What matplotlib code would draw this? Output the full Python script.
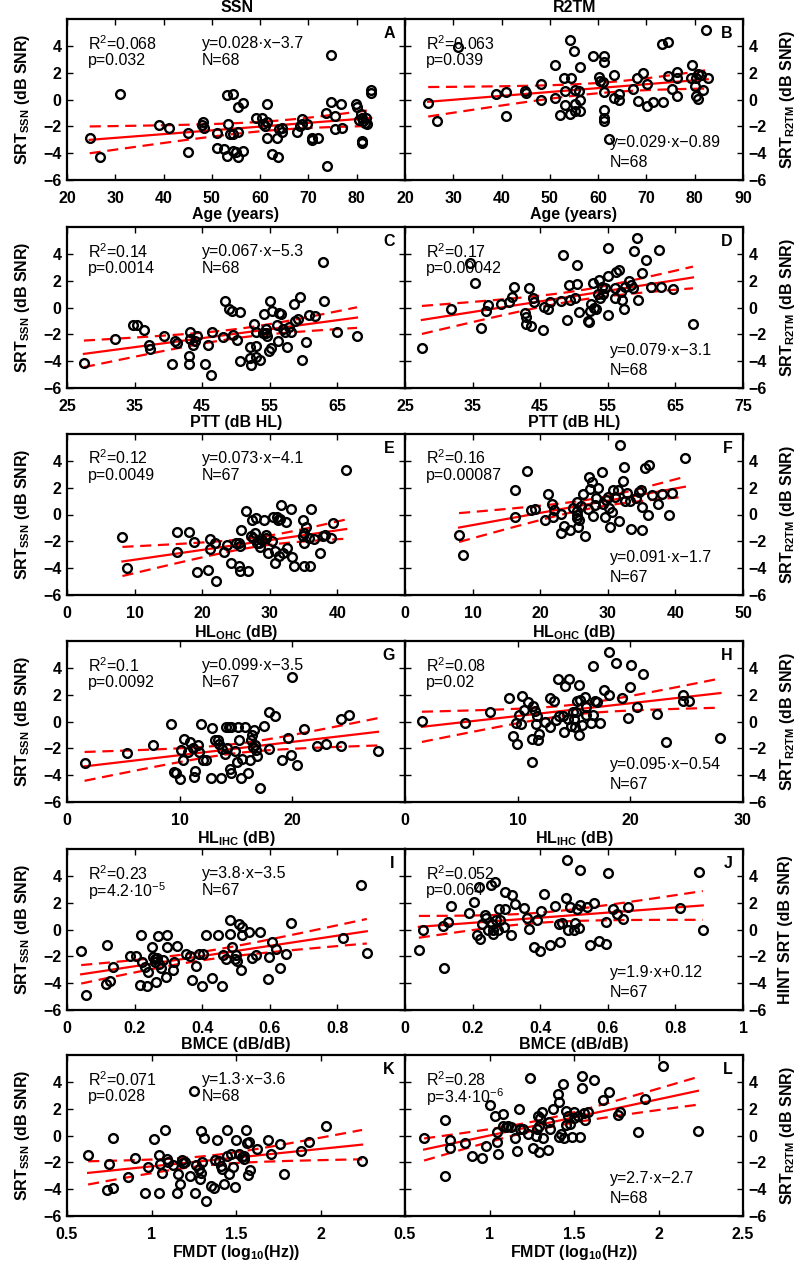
import numpy as np
import matplotlib
matplotlib.use("Agg")
import matplotlib.pyplot as plt

plt.rcParams['font.family'] = ['Liberation Sans', 'DejaVu Sans']
plt.rcParams['font.size'] = 11.5
plt.rcParams['mathtext.fontset'] = 'custom'
plt.rcParams['mathtext.rm'] = 'Liberation Sans'
plt.rcParams['mathtext.it'] = 'Liberation Sans:italic'
plt.rcParams['mathtext.bf'] = 'Liberation Sans:bold'

# ---- data: (x, SRT) per panel ----
pts_A = [(24.7, -2.89), (26.8, -4.27), (30.9, 0.42), (39.0, -1.9), (41.1, -2.15), (45.1, -2.47),
         (45.1, -3.9), (48.2, -1.65), (48.3, -2.1), (51.1, -2.47), (51.1, -3.63), (52.5, -3.7),
         (53.2, 0.3), (53.4, -1.8), (53.2, -4.2), (54.4, 0.42), (54.4, -2.54), (54.3, -3.83),
         (55.4, -0.57), (55.4, -2.4), (55.4, -4.27), (56.5, -0.25), (56.4, -3.83), (59.2, -1.36),
         (60.3, -1.4), (60.6, -1.85), (61.5, -0.37), (61.5, -2.84), (61.5, -1.65), (62.4, -4.07),
         (63.4, -2.84), (63.7, -4.27), (64.5, -2.1), (64.5, -2.4), (67.7, -2.4), (68.6, -1.48),
         (68.7, -1.85), (69.8, -1.8), (70.7, -3.04), (70.8, -2.89), (71.9, -2.89), (73.7, -0.99),
         (73.8, -4.96), (74.7, 3.28), (74.7, -0.17), (75.6, -2.22), (76.8, -0.37), (77.0, -2.15),
         (79.9, -0.37), (80.0, -0.57), (81.0, -3.09), (81.0, -3.21), (81.1, -1.36), (81.3, -1.6),
         (82.0, -1.36), (82.1, -1.85), (81.8, -1.73), (83.0, 0.74), (83.0, 0.49), (80.8, -1.11),
         (55.0, -3.9), (61.0, -2.0), (64.0, -2.2), (80.5, -1.5), (53.8, -2.6), (75.5, -1.2),
         (68.3, -2.0), (48.0, -1.9)]
pts_B = [(24.8, -0.25), (26.7, -1.6), (30.9, 3.93), (38.9, 0.42), (41.0, 0.57), (41.0, -1.23),
         (44.9, 0.62), (45.0, 0.47), (48.2, 1.16), (48.2, -0.07), (51.0, 2.54), (51.0, 0.12),
         (52.2, -1.16), (52.9, 1.6), (53.1, 0.62), (53.1, -0.42), (54.1, 4.44), (54.3, 1.6),
         (54.1, -1.11), (54.9, 3.58), (55.2, 0.74), (55.2, -0.32), (55.3, -0.86), (56.2, 2.4),
         (56.2, -0.07), (56.2, -0.86), (59.0, 3.26), (60.1, 1.65), (60.3, 1.36), (61.3, 3.21),
         (61.3, 2.79), (61.3, 0.57), (61.3, -0.81), (61.3, -1.41), (61.3, -1.6), (62.2, -2.96),
         (63.2, 1.8), (63.2, 0.12), (64.3, 0.42), (64.3, -0.07), (67.3, 0.81), (68.1, 1.6),
         (68.3, -0.12), (69.3, 1.98), (70.2, 1.16), (70.2, -0.49), (71.3, -0.17), (73.4, -0.17),
         (73.2, 4.15), (74.4, 4.25), (74.4, 1.73), (75.2, 0.81), (76.4, 2.05), (76.4, 1.6),
         (76.4, 0.25), (79.4, 2.59), (79.3, 1.6), (80.3, 1.6), (80.3, 0.25), (80.6, 0.07),
         (80.7, 1.9), (81.4, 1.8), (81.7, 0.74), (82.4, 5.19), (82.7, 1.6), (56.0, 0.6),
         (61.0, 1.3), (80.0, 1.0)]
pts_C = [(27.5, -4.1), (32.1, -2.34), (34.7, -1.34), (35.4, -1.34), (36.4, -1.67), (37.2, -2.79),
         (37.3, -3.08), (39.4, -2.16), (40.5, -4.23), (41.0, -2.49), (41.2, -2.66), (43.0, -3.58),
         (43.1, -4.23), (43.2, -1.84), (43.2, -2.34), (43.7, -2.79), (44.2, -2.16), (45.4, -4.23),
         (45.8, -2.79), (46.3, -5.02), (46.4, -1.84), (48.1, -2.21), (48.3, 0.45), (48.9, -0.12),
         (49.4, -0.25), (49.6, -2.04), (50.1, -2.41), (50.6, -0.37), (50.6, -3.98), (52.0, -3.73),
         (52.1, -2.91), (52.2, -4.28), (52.6, -1.24), (52.9, -1.79), (53.0, -2.84), (52.9, -3.66),
         (53.5, -3.91), (54.2, -0.47), (54.4, -1.59), (54.5, -1.92), (54.6, -2.16), (54.9, -3.23),
         (55.1, 0.45), (55.2, -3.03), (55.3, -0.25), (56.1, -1.34), (56.2, -2.49), (56.3, -0.42),
         (56.7, -0.5), (57.2, -1.79), (57.5, -2.91), (57.8, -1.42), (58.1, -1.79), (58.6, 0.25),
         (58.8, -1.0), (59.2, -0.85), (59.5, 0.75), (59.7, -3.91), (60.3, -2.54), (60.8, -0.55),
         (61.7, -0.67), (62.8, 3.36), (63.0, 0.5), (64.9, -1.84), (67.9, -2.16), (54.0, -1.9),
         (57.0, -1.6), (44.0, -2.5)]
pts_D = [(27.5, -3.01), (31.8, -0.1), (34.6, 3.33), (35.4, 1.85), (36.2, -1.53), (37.0, -0.25),
         (37.3, 0.15), (39.2, 0.25), (40.4, 0.4), (40.9, 0.81), (41.1, 1.56), (42.8, -0.42),
         (42.9, -0.74), (42.9, -1.23), (43.3, 1.48), (43.6, -1.41), (43.9, 0.69), (44.1, 0.44),
         (45.4, -1.65), (45.6, 0.07), (46.1, -0.1), (46.4, 0.44), (48.1, 0.49), (48.3, 3.9),
         (48.9, -0.91), (49.2, 1.68), (49.4, 0.57), (50.1, 0.69), (50.5, 3.16), (50.5, 1.73),
         (50.7, -0.35), (52.0, -0.99), (52.2, -1.09), (52.3, -0.25), (52.5, 0.25), (52.8, 1.8),
         (53.0, 0.0), (53.2, -0.1), (53.7, 2.05), (53.9, 0.69), (54.2, 1.56), (54.3, 0.99),
         (54.6, 1.43), (55.0, 4.44), (55.0, -0.54), (55.1, 2.37), (56.0, 0.69), (56.1, 1.43),
         (56.2, 2.62), (56.6, 2.79), (56.9, 1.14), (57.1, 0.57), (57.4, -0.1), (57.6, 1.56),
         (58.1, 1.98), (58.4, 1.68), (58.7, 1.43), (58.9, 4.2), (59.3, 5.19), (59.4, 0.57),
         (60.1, 2.54), (60.7, 3.53), (61.4, 1.56), (62.5, 4.27), (62.9, 1.56), (64.7, 1.38),
         (67.6, -1.23), (53.5, 1.0)]
pts_E = [(8.2, -1.64), (8.9, -4.02), (16.3, -1.32), (16.3, -2.82), (18.1, -1.32), (18.8, -2.08),
         (19.2, -4.26), (20.9, -4.17), (21.2, -1.84), (21.2, -2.57), (21.9, -2.13), (22.1, -4.95),
         (23.2, -2.82), (23.6, -2.25), (24.3, -3.65), (25.0, -2.13), (25.4, -3.85), (25.6, -4.22),
         (25.6, -2.38), (25.8, -1.15), (26.5, 0.27), (26.8, -4.22), (27.3, -0.42), (27.5, -1.76),
         (27.8, -1.4), (27.9, -0.29), (28.1, -2.13), (28.6, -2.43), (28.9, -1.89), (29.1, -0.42),
         (29.4, -1.76), (29.7, -2.87), (30.3, -1.94), (30.5, -0.17), (30.8, -3.6), (31.0, -0.22),
         (31.2, -0.42), (31.4, -3.11), (31.7, 0.74), (31.9, -2.87), (32.4, -0.54), (32.5, -2.5),
         (33.1, 0.44), (33.3, -3.16), (33.6, -3.85), (34.9, -0.42), (35.0, -1.4), (35.0, -3.85),
         (35.1, -2.13), (35.4, -0.96), (35.8, -1.76), (35.9, -3.85), (36.1, 0.44), (36.6, -1.84),
         (37.4, -2.87), (37.9, -1.59), (38.1, -1.52), (39.1, -1.76), (39.4, -0.61), (41.3, 3.31),
         (27.2, -1.6), (29.5, -1.5), (30.8, -2.7), (25.5, -2.1), (34.9, -1.6), (28.4, -2.1),
         (31.5, -0.3)]
pts_F = [(8.0, -1.52), (8.6, -2.99), (16.2, 1.84), (16.3, -0.22), (18.1, 3.26), (18.7, 0.37),
         (19.3, 0.44), (20.7, -0.42), (21.1, 1.54), (21.7, 0.81), (21.9, -0.17), (23.1, 0.02),
         (23.1, -1.4), (23.5, -0.86), (24.4, -1.15), (24.9, 0.51), (25.4, 0.27), (25.4, -0.29),
         (25.5, 0.93), (25.6, -0.91), (25.7, -0.42), (26.4, 1.54), (26.7, -1.59), (27.2, 2.77),
         (27.3, 1.91), (27.6, 2.4), (27.8, -0.12), (28.1, 0.69), (28.6, 1.96), (29.1, 3.14),
         (29.3, 0.76), (29.6, -0.17), (29.8, 1.05), (30.0, 1.3), (30.3, -0.96), (30.6, 0.2),
         (30.8, 1.79), (31.5, 1.79), (31.6, -0.47), (31.8, 5.17), (32.3, 2.52), (32.4, 3.55),
         (32.9, 1.59), (33.3, 1.0), (33.5, -1.1), (34.6, 1.67), (34.9, 1.79), (35.0, -1.15),
         (35.0, 0.56), (35.5, 3.5), (36.1, 3.68), (35.9, -0.05), (36.5, 1.42), (37.4, 0.76),
         (38.0, 1.54), (39.0, -0.05), (39.5, 1.59), (41.4, 4.24), (25.5, 0.0), (30.2, 0.5),
         (28.3, 1.2), (32.6, 1.0), (22.0, 0.3), (26.0, 0.6), (34.2, 1.2), (31.0, 1.3),
         (27.0, 0.4)]
pts_G = [(1.56, -3.08), (5.29, -2.32), (7.65, -1.77), (9.2, -0.22), (9.5, -3.74), (9.7, -3.87),
         (10.0, -4.29), (10.1, -2.14), (10.3, -2.88), (10.4, -1.28), (10.7, -2.27), (10.9, -1.53),
         (11.3, -4.11), (11.4, -3.67), (11.6, -1.72), (11.7, -2.27), (11.85, -0.17), (12.1, -2.88),
         (12.35, -2.88), (12.8, -4.24), (12.9, -0.47), (13.1, -1.4), (13.4, -1.4), (13.5, -1.65),
         (13.7, -4.24), (13.8, -2.02), (14.0, -2.39), (14.1, -0.42), (14.4, -0.42), (14.5, -3.55),
         (14.6, -0.42), (14.6, -3.87), (14.9, -2.22), (15.1, -3.0), (15.2, -0.42), (15.3, -1.4),
         (15.4, -4.24), (15.5, -2.81), (15.8, -0.42), (16.1, -3.87), (16.2, -2.88), (16.3, -1.4),
         (16.4, -0.98), (16.6, -0.67), (16.7, -1.77), (16.8, -2.14), (16.9, -2.56), (17.1, -4.98),
         (17.5, -0.3), (17.9, 0.74), (17.9, -2.02), (18.5, 0.39), (19.1, -2.88), (19.6, -1.21),
         (19.9, -2.51), (20.0, 3.33), (20.4, -3.25), (21.0, -0.59), (22.2, -1.82), (23.0, -1.7),
         (24.35, 0.2), (24.35, -1.82), (25.0, 0.49), (27.6, -2.19), (14.2, -2.0), (11.2, -2.0),
         (16.5, -1.9)]
pts_H = [(1.5, 0.07), (5.3, -0.12), (7.55, 0.69), (9.2, 1.72), (9.55, -1.08), (9.85, -0.12),
         (9.9, -1.65), (10.1, 0.49), (10.3, -0.22), (10.4, 1.87), (10.6, 0.89), (10.9, 1.48),
         (11.3, -1.28), (11.3, -3.0), (11.4, 1.18), (11.5, 0.81), (11.6, -0.17), (11.7, 0.39),
         (11.8, -1.4), (11.9, -0.91), (12.4, -0.05), (12.9, -0.42), (12.9, 1.72), (13.2, 1.55),
         (13.6, 3.2), (13.7, 0.39), (14.0, 0.44), (14.1, -0.79), (14.2, 2.61), (14.5, 0.15),
         (14.6, 3.15), (14.7, -0.3), (14.9, 0.69), (15.1, -0.42), (15.2, 0.74), (15.3, 1.55),
         (15.4, 2.71), (15.4, -0.99), (15.5, 1.62), (15.7, -0.25), (16.0, 1.8), (16.1, 1.05),
         (16.1, 0.49), (16.5, -0.1), (16.7, 4.14), (16.7, 0.49), (16.9, 1.55), (17.0, 1.43),
         (17.3, -0.12), (17.7, 2.37), (18.1, 5.17), (18.1, 1.97), (18.7, 4.39), (19.3, 1.72),
         (19.8, 0.25), (20.0, 2.54), (20.1, 4.22), (20.6, 1.06), (21.1, 3.53), (22.4, 0.57),
         (23.2, -1.53), (24.7, 1.99), (24.7, 1.5), (25.2, 1.55), (28.0, -1.23), (15.0, 0.2),
         (13.4, 0.1)]
pts_I = [(0.042, -1.62), (0.055, -4.91), (0.114, -4.08), (0.119, -1.18), (0.128, -3.83), (0.136, -2.78),
         (0.187, -1.99), (0.203, -1.99), (0.215, -4.13), (0.22, -0.39), (0.223, -2.41), (0.23, -2.78),
         (0.236, -4.18), (0.239, -3.19), (0.252, -1.3), (0.254, -2.04), (0.259, -2.41), (0.262, -3.88),
         (0.266, -2.16), (0.269, -0.49), (0.272, -2.6), (0.279, -2.9), (0.284, -2.29), (0.294, -3.51),
         (0.296, -0.39), (0.296, -1.3), (0.313, -3.02), (0.318, -2.41), (0.325, -1.25), (0.353, -1.79),
         (0.365, -1.97), (0.37, -3.76), (0.382, -2.7), (0.392, -1.79), (0.4, -4.18), (0.402, -1.79),
         (0.412, -0.39), (0.429, -3.64), (0.446, -0.39), (0.459, -4.18), (0.461, -1.87), (0.469, -2.21),
         (0.481, 0.74), (0.481, -0.32), (0.489, -1.3), (0.498, -2.21), (0.502, -2.36), (0.51, 0.42),
         (0.515, -3.02), (0.517, 0.17), (0.518, -0.44), (0.538, -0.15), (0.548, -2.11), (0.56, -1.87),
         (0.572, -0.2), (0.594, -3.69), (0.597, -2.04), (0.607, -0.93), (0.619, -1.47), (0.631, -2.85),
         (0.648, -1.79), (0.663, 0.49), (0.818, -0.61), (0.87, 3.32), (0.887, -1.72), (0.26, -2.2),
         (0.50, -1.9)]
pts_J = [(0.041, -1.55), (0.053, -0.07), (0.112, 0.25), (0.115, -2.9), (0.128, 0.59), (0.135, 1.77),
         (0.189, 1.23), (0.204, 2.06), (0.214, -0.39), (0.219, 3.19), (0.221, -0.74), (0.229, 0.42),
         (0.236, 1.08), (0.24, 0.84), (0.246, -0.07), (0.253, 3.29), (0.256, 0.42), (0.26, -0.32),
         (0.266, 3.54), (0.268, 0.74), (0.276, -0.07), (0.278, 1.52), (0.28, 0.74), (0.293, 0.17),
         (0.296, 1.52), (0.296, 2.8), (0.315, -0.44), (0.317, 2.56), (0.325, 1.89), (0.352, 1.57),
         (0.362, 0.84), (0.367, 0.05), (0.381, -1.3), (0.391, 0.74), (0.398, -1.62), (0.401, 1.4),
         (0.411, 2.63), (0.428, -1.18), (0.443, 1.77), (0.457, 0.42), (0.46, -0.93), (0.465, 0.49),
         (0.477, 2.38), (0.48, 5.16), (0.483, -0.07), (0.487, 1.65), (0.5, -0.07), (0.502, 0.49),
         (0.509, 1.52), (0.514, 0.1), (0.519, 1.82), (0.519, 4.42), (0.539, 1.65), (0.546, -1.18),
         (0.559, 2.01), (0.573, -0.88), (0.595, -1.06), (0.595, 0.59), (0.601, 4.23), (0.615, 1.52),
         (0.627, 1.15), (0.644, 0.79), (0.66, 1.65), (0.815, 1.6), (0.869, 4.28), (0.881, 0.0),
         (0.26, 0.0)]
pts_K = [(0.625, -1.47), (0.734, -4.05), (0.75, -2.09), (0.77, -3.93), (0.774, -0.2), (0.863, -3.07),
         (0.903, -1.65), (0.962, -4.25), (0.982, -2.33), (1.012, -0.29), (1.042, -4.25), (1.046, -1.47),
         (1.052, -2.09), (1.06, -2.83), (1.081, 0.44), (1.091, -1.72), (1.127, -2.21), (1.151, -4.25),
         (1.155, -2.87), (1.171, -3.61), (1.18, -1.84), (1.186, -2.04), (1.226, -3.0), (1.25, 3.32),
         (1.26, -4.25), (1.266, -2.21), (1.28, -2.53), (1.286, -3.27), (1.29, -2.78), (1.294, 0.32),
         (1.3, -1.97), (1.313, -0.17), (1.32, -4.91), (1.353, -3.76), (1.369, -3.93), (1.373, -1.84),
         (1.389, -0.37), (1.413, -2.29), (1.419, -2.46), (1.429, -3.61), (1.444, -1.55), (1.448, 0.42),
         (1.458, -2.87), (1.468, -1.35), (1.484, -2.33), (1.492, -3.81), (1.498, -0.37), (1.518, -1.35),
         (1.538, -1.6), (1.548, -1.72), (1.558, 0.42), (1.565, -0.57), (1.571, -2.95), (1.577, -0.49),
         (1.583, -2.58), (1.623, -0.98), (1.687, -0.37), (1.71, -1.35), (1.76, -0.61), (1.782, -2.87),
         (1.885, -1.18), (1.929, -0.49), (2.034, 0.69), (2.246, -1.89), (1.2, -2.0), (1.4, -1.9),
         (1.55, -1.5), (1.10, -2.0)]
pts_L = [(0.613, -0.17), (0.737, 1.15), (0.737, -3.0), (0.765, -0.37), (0.767, -0.91), (0.856, -0.54),
         (0.895, -1.55), (0.958, -1.65), (0.982, -0.81), (1.002, 2.29), (1.034, 1.47), (1.042, -0.49),
         (1.047, 0.25), (1.053, -1.4), (1.077, 1.6), (1.081, 0.74), (1.107, 0.74), (1.126, 0.61),
         (1.152, -0.17), (1.16, -1.15), (1.176, 1.97), (1.18, 0.49), (1.225, 0.12), (1.239, 4.25),
         (1.255, -0.91), (1.275, -0.07), (1.279, 0.49), (1.285, 1.47), (1.29, -1.23), (1.294, 0.74),
         (1.31, 1.72), (1.318, -0.17), (1.344, -1.11), (1.358, 0.49), (1.374, 1.97), (1.403, 3.12),
         (1.413, 2.53), (1.409, -0.12), (1.423, 0.12), (1.437, 3.86), (1.443, -0.17), (1.452, 1.84),
         (1.462, 1.47), (1.476, 0.86), (1.488, -0.12), (1.502, 1.72), (1.522, 1.47), (1.535, -0.12),
         (1.547, 4.42), (1.547, 3.51), (1.561, 1.65), (1.567, 1.15), (1.581, 1.72), (1.617, 4.1),
         (1.674, 2.63), (1.706, 3.26), (1.759, 1.54), (1.773, 1.72), (1.877, 0.25), (1.921, 2.7),
         (2.026, 5.16), (2.233, 0.37), (1.30, 1.3), (1.20, 0.5), (1.45, 0.8), (1.10, 0.6),
         (1.35, 1.0), (1.5, 1.3)]

panel_points = [pts_A, pts_B, pts_C, pts_D, pts_E, pts_F, pts_G, pts_H, pts_I, pts_J, pts_K, pts_L]
letters = list("ABCDEFGHIJKL")

# fitted lines and stats as printed in each panel
slopes = [0.028, 0.029, 0.067, 0.079, 0.073, 0.091, 0.099, 0.095, 3.8, 1.9, 1.3, 2.7]
intercepts = [-3.7, -0.89, -5.3, -3.1, -4.1, -1.7, -3.5, -0.54, -3.5, 0.12, -3.6, -2.7]
r2_text = ["0.068", "0.063", "0.14", "0.17", "0.12", "0.16", "0.1", "0.08", "0.23", "0.052", "0.071", "0.28"]
p_text = ["0.032", "0.039", "0.0014", "0.00042", "0.0049", "0.00087", "0.0092", "0.02",
          "4.2\u00b710$^{-5}$", "0.064", "0.028", "3.4\u00b710$^{-6}$"]
eq_text = ["y=0.028\u00b7x\u22123.7", "y=0.029\u00b7x\u22120.89", "y=0.067\u00b7x\u22125.3",
           "y=0.079\u00b7x\u22123.1", "y=0.073\u00b7x\u22124.1", "y=0.091\u00b7x\u22121.7",
           "y=0.099\u00b7x\u22123.5", "y=0.095\u00b7x\u22120.54", "y=3.8\u00b7x\u22123.5",
           "y=1.9\u00b7x+0.12", "y=1.3\u00b7x\u22123.6", "y=2.7\u00b7x\u22122.7"]
n_text = ["68", "68", "68", "68", "67", "67", "67", "67", "67", "67", "68", "68"]

# one entry per row
x_labels = ["Age (years)", "PTT (dB HL)", r"HL$_{\mathbf{OHC}}$ (dB)", r"HL$_{\mathbf{IHC}}$ (dB)",
            "BMCE (dB/dB)", r"FMDT (log$_{\mathbf{10}}$(Hz))"]
x_limits = [(20, 90), (25, 75), (0, 50), (0, 30), (0, 1), (0.5, 2.5)]
x_ticks = [[20, 30, 40, 50, 60, 70, 80, 90], [25, 35, 45, 55, 65, 75], [0, 10, 20, 30, 40, 50],
           [0, 10, 20, 30], [0, 0.2, 0.4, 0.6, 0.8, 1], [0.5, 1, 1.5, 2, 2.5]]
x_ticklabels = [["20", "30", "40", "50", "60", "70", "80", "90"], ["25", "35", "45", "55", "65", "75"],
                ["0", "10", "20", "30", "40", "50"], ["0", "10", "20", "30"],
                ["0", "0.2", "0.4", "0.6", "0.8", "1"], ["0.5", "1", "1.5", "2", "2.5"]]
left_ylabel = r"SRT$_{\mathbf{SSN}}$ (dB SNR)"
right_ylabels = [r"SRT$_{\mathbf{R2TM}}$ (dB SNR)"] * 4 + ["HINT SRT (dB SNR)", r"SRT$_{\mathbf{R2TM}}$ (dB SNR)"]
y_ticks = [-6, -4, -2, 0, 2, 4]
y_ticklabels = ["\u22126", "\u22124", "\u22122", "0", "2", "4"]

W, H = 800, 1261
fig = plt.figure(figsize=(W / 100, H / 100), dpi=100)

col_left = [67, 405]
col_width = [338, 338]
row_bottom = [180, 388, 595, 802, 1010, 1216]
row_height = 161


def conf_band(x, y, slope, icpt):
    n = len(x)
    xm = x.mean()
    resid = y - (slope * x + icpt)
    s = np.sqrt(np.sum(resid ** 2) / (n - 2))
    sxx = np.sum((x - xm) ** 2)
    xs = np.linspace(x.min(), x.max(), 100)
    yh = slope * xs + icpt
    hw = 2.0 * s * np.sqrt(1.0 / n + (xs - xm) ** 2 / sxx)
    return xs, yh, yh - hw, yh + hw


for k in range(12):
    row, col = divmod(k, 2)
    ax = fig.add_axes([col_left[col] / W, 1 - row_bottom[row] / H, col_width[col] / W, row_height / H])
    data = np.array(panel_points[k])
    x, y = data[:, 0], data[:, 1]

    xs, yh, lo, hi = conf_band(x, y, slopes[k], intercepts[k])
    ax.plot(xs, yh, color='red', lw=1.6, zorder=2)
    ax.plot(xs, lo, color='red', lw=1.6, ls=(0, (5, 3)), zorder=2)
    ax.plot(xs, hi, color='red', lw=1.6, ls=(0, (5, 3)), zorder=2)
    ax.plot(x, y, 'o', mfc='none', mec='black', ms=6.3, mew=1.7, zorder=3)

    ax.set_xlim(*x_limits[row])
    ax.set_ylim(-6, 6)
    ticks = x_ticks[row] if col == 1 else x_ticks[row][:-1]
    labels = x_ticklabels[row] if col == 1 else x_ticklabels[row][:-1]
    ax.set_xticks(ticks)
    ax.set_xticklabels(labels, fontweight='bold')
    ax.set_yticks(y_ticks)
    ax.set_yticklabels(y_ticklabels, fontweight='bold')
    ax.set_xlabel(x_labels[row], labelpad=1, fontweight='bold')
    ax.tick_params(direction='in', length=4, width=1, top=True, right=True)
    ax.tick_params(axis='x', pad=8)
    ax.tick_params(axis='y', pad=4)
    if col == 1:
        ax.tick_params(labelleft=False, labelright=True)
        ax.yaxis.set_label_position('right')
        ax.set_ylabel(right_ylabels[row], labelpad=8, fontweight='bold')
    else:
        ax.set_ylabel(left_ylabel, labelpad=8, fontweight='bold')
    for sp in ax.spines.values():
        sp.set_linewidth(1.6)

    ax.text(0.062, 0.85, "R$^2$=" + r2_text[k], transform=ax.transAxes, va='center')
    ax.text(0.062, 0.74, "p=" + p_text[k], transform=ax.transAxes, va='center')
    if col == 0:
        ax.text(0.40, 0.85, eq_text[k], transform=ax.transAxes, va='center')
        ax.text(0.40, 0.74, "N=" + n_text[k], transform=ax.transAxes, va='center')
    else:
        ax.text(0.605, 0.23, eq_text[k], transform=ax.transAxes, va='center')
        ax.text(0.605, 0.11, "N=" + n_text[k], transform=ax.transAxes, va='center')
    ax.text(0.97, 0.91, letters[k], transform=ax.transAxes, va='center', ha='right', fontweight='bold')

fig.text(237 / W, 1 - 8 / H, "SSN", ha='center', va='center', fontweight='bold')
fig.text(575 / W, 1 - 8 / H, "R2TM", ha='center', va='center', fontweight='bold')

fig.savefig("out.png", dpi=100)
